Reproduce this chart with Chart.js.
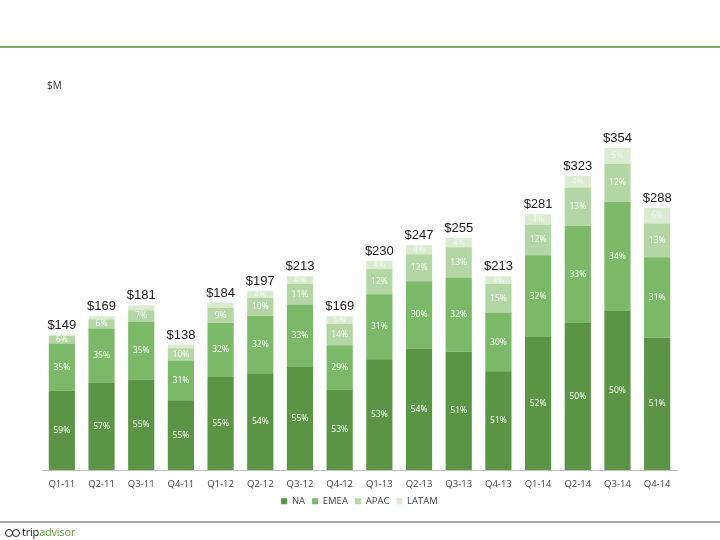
<!DOCTYPE html>
<html>
<head>
<meta charset="utf-8">
<script src="https://cdn.jsdelivr.net/npm/chart.js@4.4.1/dist/chart.umd.min.js"></script>
<style>
  html, body { margin: 0; padding: 0; background: #fff; }
  #wrap { position: relative; width: 720px; height: 540px; overflow: hidden; }
  #chart { position: absolute; left: 0; top: 0; }
  .topline { position: absolute; left: 0; top: 46px; width: 720px; height: 2px; background: #77b35e; }
  .botline { position: absolute; left: 0; top: 521px; width: 720px; height: 2px; background: #a6a6a6; }
  .unit { position: absolute; left: 47px; top: 78px; font: 10px "Open Sans", sans-serif; color: #333; }
  .logo { position: absolute; left: 5px; top: 524px; font: 11px "Open Sans", sans-serif; letter-spacing: -0.2px; }
  .logo .owl { display: inline-block; width: 6px; height: 6px; border: 1.5px solid #222; border-radius: 50%; margin-right: -1px; vertical-align: -1px; }
  .logo .trip { color: #1a1a1a; margin-left: 3px; }
  .logo .adv { color: #5a9e3a; }
</style>
</head>
<body>
<div id="wrap">
  <canvas id="chart" width="720" height="540"></canvas>
  <div class="topline"></div>
  <div class="unit">$M</div>
  <div class="botline"></div>
  <div class="logo"><span class="owl"></span><span class="owl"></span><span class="trip">trip</span><span class="adv">advisor</span></div>
</div>
<script>
// ── data ──
const quarters = ['Q1-11','Q2-11','Q3-11','Q4-11','Q1-12','Q2-12','Q3-12','Q4-12',
                  'Q1-13','Q2-13','Q3-13','Q4-13','Q1-14','Q2-14','Q3-14','Q4-14'];
const totals   = [149, 169, 181, 138, 184, 197, 213, 169, 230, 247, 255, 213, 281, 323, 354, 288];
const naPct    = [59, 57, 55, 55, 55, 54, 55, 53, 53, 54, 51, 51, 52, 50, 50, 51];
const emeaPct  = [35, 35, 35, 31, 32, 32, 33, 29, 31, 30, 32, 30, 32, 33, 34, 31];
const apacPct  = [6, 6, 7, 10, 9, 10, 11, 14, 12, 12, 13, 15, 12, 13, 12, 13];
const latamPct = [1, 2, 3, 3, 3, 4, 4, 5, 4, 4, 4, 4, 4, 4, 5, 6];

const regions = ['NA', 'EMEA', 'APAC', 'LATAM'];
const regionPct = [naPct, emeaPct, apacPct, latamPct];
const regionColors = ['#5a9444', '#7bb968', '#b4d6a4', '#d9ebd1'];

// segment $M = total * share (shares normalised so the stack hits the total)
function segValues(pcts) {
  return totals.map((t, i) => {
    const sum = naPct[i] + emeaPct[i] + apacPct[i] + latamPct[i];
    return t * pcts[i] / sum;
  });
}

const datasets = regions.map((r, k) => ({
  label: r,
  data: segValues(regionPct[k]),
  pct: regionPct[k],
  backgroundColor: regionColors[k],
  borderWidth: 0,
  barPercentage: 0.66,
  categoryPercentage: 1.0
}));

// ── labels: % inside segments, $ totals on top ──
const labelPlugin = {
  id: 'labels',
  afterDatasetsDraw(chart) {
    const ctx = chart.ctx;
    ctx.save();
    ctx.textAlign = 'center';
    ctx.textBaseline = 'middle';
    chart.data.datasets.forEach((ds, k) => {
      const meta = chart.getDatasetMeta(k);
      meta.data.forEach((bar, i) => {
        if (ds.pct[i] < 4) return;
        const y = (bar.y + bar.base) / 2;
        ctx.font = '8.5px "Open Sans", sans-serif';
        ctx.fillStyle = k === 3 ? '#f4f9f1' : '#ffffff';
        ctx.fillText(ds.pct[i] + '%', bar.x, y);
      });
    });
    const top = chart.getDatasetMeta(3);
    ctx.textBaseline = 'bottom';
    ctx.font = '13px "Liberation Sans", sans-serif';
    ctx.fillStyle = '#1a1a1a';
    top.data.forEach((bar, i) => {
      ctx.fillText('$' + totals[i], bar.x, bar.y - 3);
    });
    ctx.restore();
  }
};

new Chart(document.getElementById('chart'), {
  type: 'bar',
  data: { labels: quarters, datasets },
  options: {
    responsive: false,
    animation: false,
    layout: { padding: { top: 106, left: 42, right: 43, bottom: 24 } },
    plugins: {
      legend: {
        position: 'bottom',
        labels: {
          color: '#404040',
          font: { family: 'Open Sans', size: 9.5 },
          boxWidth: 6, boxHeight: 6, padding: 7
        }
      },
      tooltip: { enabled: false }
    },
    scales: {
      x: {
        stacked: true,
        grid: { display: false },
        border: { display: true, color: '#bfbfbf', width: 1 },
        ticks: { color: '#404040', font: { family: 'Open Sans', size: 9.5 }, maxRotation: 0, padding: 0 }
      },
      y: {
        stacked: true,
        display: false,
        min: 0, max: 400
      }
    }
  },
  plugins: [labelPlugin]
});
</script>
</body>
</html>
